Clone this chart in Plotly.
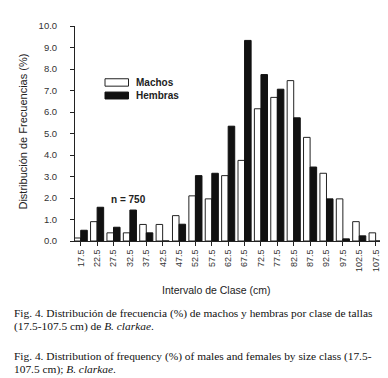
import plotly.graph_objects as go

categories = ["17.5", "22.5", "27.5", "32.5", "37.5", "42.5", "47.5", "52.5", "57.5", "62.5",
              "67.5", "72.5", "77.5", "82.5", "87.5", "92.5", "97.5", "102.5", "107.5"]
machos = [0.14, 0.9, 0.38, 0.38, 0.77, 0.77, 1.18, 2.1, 1.96, 3.04,
          3.75, 6.15, 6.68, 7.46, 4.82, 3.15, 1.96, 0.9, 0.38]
hembras = [0.5, 1.57, 0.64, 1.44, 0.38, 0.0, 0.78, 3.04, 3.15, 5.34,
           9.33, 7.74, 7.06, 5.73, 3.44, 1.96, 0.1, 0.24, 0.0]
yticks = [0, 1, 2, 3, 4, 5, 6, 7, 8, 9, 10]

fig = go.Figure()
fig.add_trace(go.Bar(x=categories, y=machos, name="Machos",
                     marker=dict(color="white", line=dict(color="#222", width=1)),
                     showlegend=False))
fig.add_trace(go.Bar(x=categories, y=hembras, name="Hembras",
                     marker=dict(color="#111", line=dict(color="#111", width=1)),
                     showlegend=False))

W, H = 388, 378
L, R, T, B = 67, 13, 15, 145
pw, ph = W - L - R, H - T - B


def px(xp):
    return (xp - L) / pw


def py(yp):
    return (H - B - yp) / ph


fig.update_layout(
    width=W, height=H,
    margin=dict(l=L, r=R, t=T, b=B),
    paper_bgcolor="white", plot_bgcolor="white",
    barmode="group", bargap=0.2, bargroupgap=0,
    font=dict(family="Arial, Liberation Sans, sans-serif", color="#222"),
    xaxis=dict(type="category", range=[-0.35, 18.45], tickangle=-90,
               ticks="outside", ticklen=4, tickcolor="#222",
               showline=True, linecolor="#222", linewidth=1,
               showgrid=False, tickfont=dict(size=9, color="#333")),
    yaxis=dict(range=[0, 10], tickvals=yticks, tickformat=".1f",
               ticks="outside", ticklen=4, tickcolor="#222",
               showline=True, linecolor="#222", linewidth=1,
               showgrid=False, zeroline=False, ticklabelstandoff=11,
               tickfont=dict(size=9.5, color="#333")),
)

ann = []
ann.append(dict(text="Distribución de Frecuencias (%)", x=px(15), y=py(122),
                xref="paper", yref="paper", textangle=-90, showarrow=False,
                font=dict(size=11, color="#222"), xanchor="center", yanchor="middle"))
ann.append(dict(text="Intervalo de Clase (cm)", x=px(208), y=py(283),
                xref="paper", yref="paper", showarrow=False,
                font=dict(size=10.5, color="#222"), xanchor="center", yanchor="middle"))
ann.append(dict(text="<b>n = 750</b>", x=px(120), y=py(191),
                xref="paper", yref="paper", showarrow=False,
                font=dict(size=10, color="#222"), xanchor="center", yanchor="middle"))
ann.append(dict(text="<b>Machos</b>", x=px(126), y=py(72),
                xref="paper", yref="paper", showarrow=False,
                font=dict(size=10, color="#222"), xanchor="left", yanchor="middle"))
ann.append(dict(text="<b>Hembras</b>", x=px(126), y=py(85.5),
                xref="paper", yref="paper", showarrow=False,
                font=dict(size=10, color="#222"), xanchor="left", yanchor="middle"))

cap_font = dict(family="Liberation Serif, Times New Roman, serif", size=11.4, color="#111")
captions = [
    ("Fig. 4. Distribución de frecuencia (%) de machos y hembras por clase de tallas", 307),
    ("(17.5-107.5 cm) de <i>B. clarkae</i>.", 320),
    ("Fig. 4. Distribution of frequency (%) of males and females by size class (17.5-", 350),
    ("107.5 cm); <i>B. clarkae</i>.", 363),
]
for txt, yy in captions:
    ann.append(dict(text=txt, x=px(4), y=py(yy), xref="paper", yref="paper",
                    showarrow=False, font=cap_font, xanchor="left", yanchor="middle"))
fig.update_layout(annotations=ann)

fig.add_shape(type="rect", xref="paper", yref="paper",
              x0=px(97), x1=px(120.5), y0=py(76), y1=py(68.5),
              fillcolor="white", line=dict(color="#222", width=1))
fig.add_shape(type="rect", xref="paper", yref="paper",
              x0=px(97), x1=px(120.5), y0=py(89), y1=py(82),
              fillcolor="#111", line=dict(color="#111", width=1))

fig.write_html("out.html")
